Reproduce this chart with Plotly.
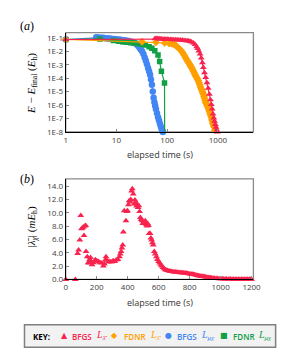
import plotly.graph_objects as go

# ---------------- Panel (a): E - E_final vs elapsed time ----------------
red_a_t = [1, 57, 60, 63, 66, 70, 74, 78, 83, 88, 94, 100, 107, 115, 124, 134, 145, 157, 170, 185,
           200, 215, 232, 250, 268, 285, 302, 330, 355, 380, 400, 420, 445, 470, 495, 517, 545, 575,
           610, 644, 680, 715, 744, 772, 800, 830, 860, 890, 920, 950, 980]
red_a_e = [7.5e-2, 8.5e-2, 9.0e-2, 8.8e-2, 8.6e-2, 8.5e-2, 8.3e-2, 8.2e-2, 8.0e-2, 7.9e-2, 7.8e-2,
           7.7e-2, 7.6e-2, 7.5e-2, 7.4e-2, 7.3e-2, 7.2e-2, 7.1e-2, 7.0e-2, 6.8e-2, 6.6e-2, 6.4e-2,
           6.2e-2, 6.0e-2, 5.7e-2, 5.4e-2, 5.0e-2, 4.2e-2, 3.2e-2, 2.2e-2, 1.6e-2, 1.05e-2, 6.3e-3,
           3.2e-3, 1.4e-3, 6.3e-4, 2.5e-4, 1.1e-4, 4.5e-5, 1.8e-5, 6.3e-6, 2.5e-6, 1.1e-6, 5.0e-7,
           2.2e-7, 1.1e-7, 6.3e-8, 3.5e-8, 2.2e-8, 1.4e-8, 1.0e-8]

orange_a_t = [1, 32, 60, 89, 110, 125, 138, 150, 160, 172, 184, 195, 205, 217, 229, 240, 250, 260,
              270, 280, 290, 298, 307, 318, 330, 342, 355, 368, 380, 395, 411, 425, 440, 455, 470,
              483, 495, 506, 517, 530, 545, 560, 575, 592, 610, 627, 644, 662, 680, 697, 715, 730,
              744, 760, 775, 788, 800, 815, 830, 845, 857, 870]
orange_a_e = [7.5e-2, 5.1e-2, 4.7e-2, 4.2e-2, 3.8e-2, 3.5e-2, 3.2e-2, 2.6e-2, 2.0e-2, 1.6e-2,
              1.26e-2, 9.5e-3, 7.1e-3, 5.0e-3, 3.5e-3, 2.6e-3, 2.0e-3, 1.6e-3, 1.26e-3, 1.0e-3,
              7.9e-4, 6.6e-4, 5.6e-4, 4.2e-4, 3.2e-4, 2.4e-4, 1.8e-4, 1.4e-4, 1.1e-4, 8.5e-5,
              6.3e-5, 4.5e-5, 3.2e-5, 2.2e-5, 1.6e-5, 1.3e-5, 1.0e-5, 7.9e-6, 6.3e-6, 4.5e-6,
              3.2e-6, 2.2e-6, 1.6e-6, 1.3e-6, 1.0e-6, 7.9e-7, 6.3e-7, 4.5e-7, 3.5e-7, 2.6e-7,
              2.0e-7, 1.6e-7, 1.26e-7, 9.0e-8, 7.1e-8, 5.6e-8, 4.5e-8, 3.5e-8, 2.8e-8, 2.4e-8,
              2.3e-8, 1.4e-8]

blue_a_t = [1, 4, 4.5, 5, 5.5, 6, 6.5, 7, 7.5, 8, 9, 10, 11, 12, 13, 14, 15, 16.5, 18, 19.5, 21,
            22.5, 24, 25.5, 27, 28.5, 30, 32, 34, 36, 38, 40, 42, 44, 46, 48, 50, 52, 54, 56, 58,
            60, 63, 66, 69, 72, 75, 78, 80, 82]
blue_a_e = [7.5e-2, 1.1e-1, 1.05e-1, 1.0e-1, 1.0e-1, 9.5e-2, 9.3e-2, 8.9e-2, 8.7e-2, 8.5e-2,
            8.1e-2, 7.9e-2, 7.6e-2, 7.2e-2, 6.9e-2, 6.6e-2, 6.3e-2, 6.0e-2, 5.6e-2, 5.2e-2,
            4.8e-2, 4.4e-2, 3.8e-2, 3.2e-2, 2.5e-2, 1.9e-2, 1.4e-2, 1.0e-2, 6.3e-3, 3.5e-3,
            2.0e-3, 1.1e-3, 5.6e-4, 3.2e-4, 1.8e-4, 7.9e-5, 3.2e-5, 1.0e-5, 3.5e-6, 1.6e-6,
            8.9e-7, 5.0e-7, 2.5e-7, 1.26e-7, 7.1e-8, 4.0e-8, 2.5e-8, 1.6e-8, 1.26e-8, 1.0e-8]

green_a_t = [1, 4.7, 8.7, 11, 13.5, 16, 19, 22, 25.7, 31, 37, 44, 50, 57, 66, 71, 77, 88.6, 89.5]
green_a_e = [7.5e-2, 8.3e-2, 6.3e-2, 5.6e-2, 5.0e-2, 4.7e-2, 4.4e-2, 4.1e-2, 3.8e-2, 3.3e-2,
             2.9e-2, 2.2e-2, 1.7e-2, 1.1e-2, 5.4e-3, 1.7e-3, 3.2e-4, 4.4e-5, 1.0e-10]

# ---------------- Panel (b): |lambda_chi| vs elapsed time ----------------
lam_t = [0, 62, 77, 83, 91, 97, 102, 108, 114, 118, 124, 129, 131, 139, 145, 150, 155, 160, 165,
         170, 180, 191, 200, 212, 222, 233, 243, 250, 256, 260, 264, 275, 285, 295, 306, 316, 326,
         337, 347, 352, 358, 363, 368, 372, 378, 389, 394, 399, 405, 410, 415, 420, 426, 430, 436,
         441, 447, 452, 457, 462, 467, 472, 477, 482, 487, 493, 498, 503, 508, 514, 520, 525, 530,
         534, 539, 545, 550, 555, 560, 565, 572, 578, 586, 592, 600, 607, 614, 621, 628, 636, 644,
         652, 659, 668, 676, 684, 692, 700, 708, 716, 724, 732, 740, 748, 756, 763, 771, 779, 787,
         795, 803, 811, 818, 825, 833, 841, 849, 857, 865, 873, 880, 888, 896, 904, 912, 920, 928,
         936, 944, 952, 960, 971, 980, 990, 1000, 1010, 1020, 1030, 1040, 1054, 1065, 1075, 1085,
         1095, 1105, 1115, 1125, 1135, 1145, 1155, 1165, 1175, 1185, 1195, 1200]
lam_v = [0.0, 0.0, 3.9, 4.4, 5.9, 9.6, 7.6, 7.7, 7.85, 6.6, 8.0, 8.1, 4.2, 3.4, 2.5, 2.45, 3.0,
         3.3, 2.6, 2.2, 2.5, 2.95, 2.8, 2.7, 2.5, 2.45, 2.0, 2.3, 2.9, 3.4, 2.9, 2.6, 2.7, 2.6,
         2.8, 2.7, 2.9, 3.0, 3.4, 3.8, 4.2, 4.7, 5.15, 7.1, 10.3, 8.8, 10.2, 10.3, 11.2, 11.8,
         11.6, 12.0, 13.25, 13.6, 12.8, 11.3, 11.9, 11.5, 11.0, 11.3, 10.8, 11.05, 10.2, 9.3,
         9.0, 8.8, 8.4, 8.6, 8.4, 8.8, 8.2, 8.0, 8.35, 8.1, 6.9, 6.9, 6.2, 5.9, 5.5, 5.15, 4.2,
         3.8, 3.4, 3.0, 2.7, 2.45, 2.2, 2.0, 1.8, 1.6, 1.45, 1.38, 1.33, 1.25, 1.2, 1.17, 1.14,
         1.13, 1.1, 1.08, 1.06, 1.04, 1.02, 1.0, 0.99, 0.98, 0.95, 0.92, 0.88, 0.85, 0.82, 0.79,
         0.76, 0.74, 0.7, 0.65, 0.6, 0.56, 0.52, 0.49, 0.46, 0.44, 0.4, 0.36, 0.33, 0.3, 0.27,
         0.24, 0.21, 0.19, 0.17, 0.15, 0.13, 0.11, 0.1, 0.09, 0.08, 0.07, 0.06, 0.05, 0.05, 0.04,
         0.04, 0.04, 0.03, 0.03, 0.03, 0.03, 0.02, 0.02, 0.02, 0.02, 0.02, 0.02, 0.02]

a_xtick_vals = [1, 10, 100, 1000]
a_xtick_text = ["1", "10", "100", "1000"]
a_ytick_vals = [1e-1, 1e-2, 1e-3, 1e-4, 1e-5, 1e-6, 1e-7, 1e-8]
a_ytick_text = ["1E-1", "1E-2", "1E-3", "1E-4", "1E-5", "1E-6", "1E-7", "1E-8"]
b_xtick_vals = [0, 200, 400, 600, 800, 1000, 1200]
b_ytick_vals = [0, 2, 4, 6, 8, 10, 12, 14]
b_ytick_text = ["0.0", "2.0", "4.0", "6.0", "8.0", "10.0", "12.0", "14.0"]

RED = "#F8234E"
ORANGE = "#FF9F00"
BLUE = "#4286F4"
GREEN = "#10A045"

W, H = 293, 361
def px(x):
    return x / W
def py(y):
    return 1 - y / H

fig = go.Figure()

fig.add_trace(go.Scatter(x=blue_a_t, y=blue_a_e, mode="lines+markers", xaxis="x", yaxis="y",
                         line=dict(color=BLUE, width=1.2),
                         marker=dict(symbol="circle", size=6.5, color=BLUE), cliponaxis=False))
fig.add_trace(go.Scatter(x=green_a_t, y=green_a_e, mode="lines+markers", xaxis="x", yaxis="y",
                         line=dict(color=GREEN, width=1.2),
                         marker=dict(symbol="square", size=5.5, color=GREEN), cliponaxis=True))
fig.add_trace(go.Scatter(x=orange_a_t, y=orange_a_e, mode="lines+markers", xaxis="x", yaxis="y",
                         line=dict(color=ORANGE, width=1.2),
                         marker=dict(symbol="diamond", size=6, color=ORANGE), cliponaxis=False))
fig.add_trace(go.Scatter(x=red_a_t, y=red_a_e, mode="lines+markers", xaxis="x", yaxis="y",
                         line=dict(color=RED, width=1.2),
                         marker=dict(symbol="triangle-up", size=6, color=RED), cliponaxis=False))
fig.add_trace(go.Scatter(x=lam_t, y=lam_v, mode="markers", xaxis="x2", yaxis="y2",
                         marker=dict(symbol="triangle-up", size=6, color=RED), cliponaxis=False))

tickfont = dict(family="Open Sans", size=8, color="#404040")
xd = [px(57.7), px(252)]

fig.update_layout(
    width=W, height=H, margin=dict(l=0, r=0, t=0, b=0),
    paper_bgcolor="white", plot_bgcolor="white", showlegend=False,
    xaxis=dict(domain=xd, anchor="y", type="log", range=[0, 3.7],
               tickvals=a_xtick_vals, ticktext=a_xtick_text, tickfont=tickfont,
               showgrid=False, zeroline=False, showline=True, linecolor="black", linewidth=1,
               ticks="inside", ticklen=3, tickcolor="#888"),
    yaxis=dict(domain=[py(125), py(24)], anchor="x", type="log", range=[-8, -0.61],
               tickvals=a_ytick_vals, ticktext=a_ytick_text, tickfont=tickfont,
               showgrid=False, zeroline=False, showline=True, linecolor="black", linewidth=1,
               ticks="inside", ticklen=3, tickcolor="#888"),
    xaxis2=dict(domain=xd, anchor="y2", range=[0, 1212],
                tickvals=b_xtick_vals, tickfont=tickfont,
                showgrid=False, zeroline=False, showline=True, linecolor="black", linewidth=1,
                ticks="inside", ticklen=3, tickcolor="#888"),
    yaxis2=dict(domain=[py(275), py(172.7)], anchor="x2", range=[0, 15.08],
                tickvals=b_ytick_vals, ticktext=b_ytick_text, tickfont=tickfont,
                showgrid=False, zeroline=False, showline=True, linecolor="black", linewidth=1,
                ticks="inside", ticklen=3, tickcolor="#888"),
)

shapes = []
for (y0, y1) in [(24, 125), (172.7, 275)]:
    shapes.append(dict(type="rect", xref="paper", yref="paper", x0=px(57.7), x1=px(252),
                       y0=py(y1), y1=py(y0), line=dict(color="#8a8a8a", width=1.3), layer="below"))
shapes.append(dict(type="rect", xref="paper", yref="paper", x0=px(15), x1=px(275),
                   y0=py(344), y1=py(321), fillcolor="#f2f2f2",
                   line=dict(color="#7f7f7f", width=1.5), layer="below"))
fig.update_layout(shapes=shapes)

serif = "Liberation Serif"
ann = []
def add(text, x, y, size=9, color="black", family="Open Sans", xanchor="center", angle=0,
        weight="normal"):
    ann.append(dict(text=text, x=px(x), y=py(y), xref="paper", yref="paper", showarrow=False,
                    xanchor=xanchor, yanchor="middle", textangle=angle,
                    font=dict(family=family, size=size, color=color, weight=weight)))

add("(<i>a</i>)", 18, 17, size=12, family=serif)
add("(<i>b</i>)", 18, 173, size=12, family=serif)
add("elapsed time (s)", 155, 148, size=9, color="#333")
add("elapsed time (s)", 155, 298, size=9, color="#333")
add("<i>E</i> − <i>E</i><sub>final</sub> (<i>E</i><sub>h</sub>)", 22, 76, size=11,
    family=serif, angle=-90)
add("|<i>λ̄</i><sub><i>χ</i></sub>| (<i>mE</i><sub>h</sub>)", 23, 221, size=11,
    family=serif, angle=-90)

add("KEY:", 22, 333, size=8, xanchor="left", weight="bold")
key_items = [
    ("▲", RED, 56.7, "BFGS", 62, "<i>L</i><sub><i>λ̄</i></sub>", 87),
    ("◆", ORANGE, 108, "FDNR", 116, "<i>L</i><sub><i>λ̄</i></sub>", 143),
    ("●", BLUE, 164, "BFGS", 171, "<i>L</i><sub><i>μχ</i></sub>", 196),
    ("■", GREEN, 222, "FDNR", 229, "<i>L</i><sub><i>μχ</i></sub>", 255),
]
for sym, col, sx, lab, lx, ltx, llx in key_items:
    add(sym, sx, 332.5, size=8, color=col, family="DejaVu Sans")
    add(lab, lx, 333, size=8, color=col, xanchor="left", weight=600)
    add(ltx, llx, 332, size=10, color=col, family=serif, xanchor="left")

fig.update_layout(annotations=ann)
fig.write_html("out.html")
